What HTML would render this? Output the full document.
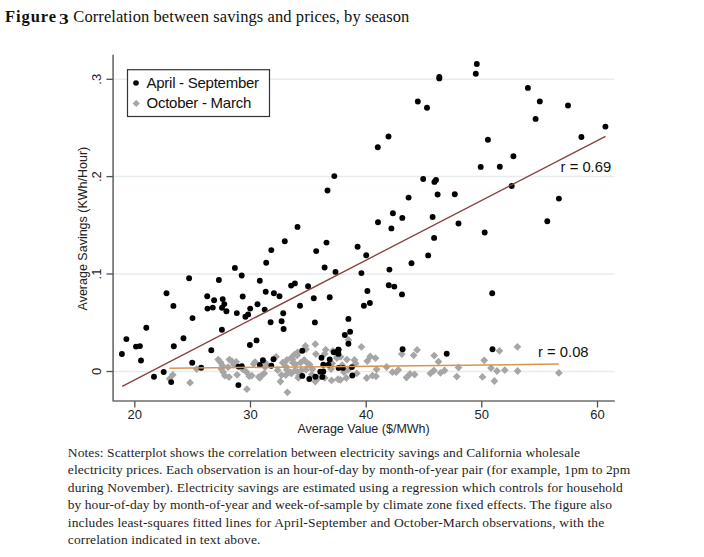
<!DOCTYPE html>
<html><head><meta charset="utf-8"><style>
html,body{margin:0;padding:0;background:#fff;width:704px;height:557px;overflow:hidden}
.t{position:absolute;left:5px;top:7px;font-family:"Liberation Serif",serif;font-size:16.5px;line-height:19px;color:#111;white-space:nowrap;}
.t b{font-weight:bold}
.n{position:absolute;left:67.8px;font-family:"Liberation Serif",serif;font-size:13.5px;line-height:17px;color:#1e1e1e;white-space:nowrap}
svg{position:absolute;left:0;top:0}
svg text{font-family:"Liberation Sans",sans-serif}
</style></head><body>
<div class="t"><b style="letter-spacing:0.92px">Figure</b><b style="margin-left:-2px"> </b><b style="display:inline-block;font-size:15px;position:relative;top:2.2px;transform:scaleX(1.3);transform-origin:0 0;width:9.5px">3</b><span style="margin-left:0.6px"> </span><span style="letter-spacing:0.08px">Correlation between savings and prices, by season</span></div>
<svg width="704" height="557" viewBox="0 0 704 557">
<g stroke="#e6edf0" stroke-width="1.5">
<line x1="114" y1="79.3" x2="614.5" y2="79.3"/>
<line x1="114" y1="176.6" x2="614.5" y2="176.6"/>
<line x1="114" y1="274.0" x2="614.5" y2="274.0"/>
<line x1="114" y1="371.5" x2="614.5" y2="371.5"/>
</g>
<rect x="127.5" y="69.7" width="142" height="46.8" fill="#fff" stroke="#333" stroke-width="1.2"/>
<circle cx="136" cy="83" r="2.8" fill="#000"/>
<path d="M136.2 99.8L139.8 103.4L136.2 107.0L132.6 103.4Z" fill="#a8a8a8"/>
<text x="146.5" y="88.0" font-size="15" letter-spacing="-0.26" fill="#111">April - September</text>
<text x="146.5" y="108.3" font-size="15" letter-spacing="-0.26" fill="#111">October - March</text>
<path d="M282.7 358.8L286.6 362.7L282.7 366.6L278.8 362.7ZM285.7 362.4L289.6 366.3L285.7 370.2L281.8 366.3ZM292.9 358.8L296.8 362.7L292.9 366.6L289.0 362.7ZM290.2 368.6L294.1 372.5L290.2 376.4L286.3 372.5ZM264.2 369.5L268.1 373.4L264.2 377.3L260.3 373.4ZM265.1 363.3L269.0 367.2L265.1 371.1L261.2 367.2ZM298.3 374.0L302.2 377.9L298.3 381.8L294.4 377.9ZM258.8 373.1L262.7 377.0L258.8 380.9L254.9 377.0ZM306.0 345.3L309.9 349.2L306.0 353.1L302.1 349.2ZM324.8 349.8L328.7 353.7L324.8 357.6L320.9 353.7ZM300.6 358.8L304.5 362.7L300.6 366.6L296.7 362.7ZM309.6 360.6L313.5 364.5L309.6 368.4L305.7 364.5ZM306.0 365.9L309.9 369.8L306.0 373.7L302.1 369.8ZM298.8 372.2L302.7 376.1L298.8 380.0L294.9 376.1ZM332.9 347.1L336.8 351.0L332.9 354.9L329.0 351.0ZM331.1 365.1L335.0 369.0L331.1 372.9L327.2 369.0ZM324.8 374.0L328.7 377.9L324.8 381.8L320.9 377.9ZM396.2 368.3L400.1 372.2L396.2 376.1L392.3 372.2ZM340.6 352.9L344.5 356.8L340.6 360.7L336.7 356.8ZM348.4 336.0L352.3 339.9L348.4 343.8L344.5 339.9ZM361.4 343.0L365.3 346.9L361.4 350.8L357.5 346.9ZM417.1 346.0L421.0 349.9L417.1 353.8L413.2 349.9ZM413.6 351.4L417.5 355.3L413.6 359.2L409.7 355.3ZM434.2 351.7L438.1 355.6L434.2 359.5L430.3 355.6ZM169.7 374.8L173.6 378.7L169.7 382.6L165.8 378.7ZM172.8 370.9L176.7 374.8L172.8 378.7L168.9 374.8ZM190.1 378.8L194.0 382.7L190.1 386.6L186.2 382.7ZM196.7 365.2L200.6 369.1L196.7 373.0L192.8 369.1ZM218.2 355.7L222.1 359.6L218.2 363.5L214.3 359.6ZM220.5 358.4L224.4 362.3L220.5 366.2L216.6 362.3ZM222.3 361.5L226.2 365.4L222.3 369.3L218.4 365.4ZM221.4 365.1L225.3 369.0L221.4 372.9L217.5 369.0ZM223.2 368.2L227.1 372.1L223.2 376.0L219.3 372.1ZM224.9 371.8L228.8 375.7L224.9 379.6L221.0 375.7ZM229.0 373.2L232.9 377.1L229.0 381.0L225.1 377.1ZM228.1 363.3L232.0 367.2L228.1 371.1L224.2 367.2ZM229.4 355.7L233.3 359.6L229.4 363.5L225.5 359.6ZM232.1 357.5L236.0 361.4L232.1 365.3L228.2 361.4ZM236.2 357.9L240.1 361.8L236.2 365.7L232.3 361.8ZM233.9 360.6L237.8 364.5L233.9 368.4L230.0 364.5ZM237.1 370.9L241.0 374.8L237.1 378.7L233.2 374.8ZM242.9 365.5L246.8 369.4L242.9 373.3L239.0 369.4ZM246.5 368.2L250.4 372.1L246.5 376.0L242.6 372.1ZM249.2 372.3L253.1 376.2L249.2 380.1L245.3 376.2ZM246.9 385.3L250.8 389.2L246.9 393.1L243.0 389.2ZM253.7 360.2L257.6 364.1L253.7 368.0L249.8 364.1ZM255.0 358.2L258.9 362.1L255.0 366.0L251.1 362.1ZM266.4 359.9L270.3 363.8L266.4 367.7L262.5 363.8ZM276.1 352.9L280.0 356.8L276.1 360.7L272.2 356.8ZM251.8 371.7L255.7 375.6L251.8 379.5L247.9 375.6ZM261.5 371.7L265.4 375.6L261.5 379.5L257.6 375.6ZM259.9 373.9L263.8 377.8L259.9 381.7L256.0 377.8ZM277.7 366.3L281.6 370.2L277.7 374.1L273.8 370.2ZM280.4 377.6L284.3 381.5L280.4 385.4L276.5 381.5ZM281.5 371.2L285.4 375.1L281.5 379.0L277.6 375.1ZM286.8 356.1L290.7 360.0L286.8 363.9L282.9 360.0ZM286.8 365.8L290.7 369.7L286.8 373.6L282.9 369.7ZM285.8 371.2L289.7 375.1L285.8 379.0L281.9 375.1ZM291.2 353.9L295.1 357.8L291.2 361.7L287.3 357.8ZM294.4 350.7L298.3 354.6L294.4 358.5L290.5 354.6ZM297.6 348.5L301.5 352.4L297.6 356.3L293.7 352.4ZM295.5 360.4L299.4 364.3L295.5 368.2L291.6 364.3ZM297.6 367.9L301.5 371.8L297.6 375.7L293.7 371.8ZM287.4 388.4L291.3 392.3L287.4 396.2L283.5 392.3ZM305.4 342.1L309.3 346.0L305.4 349.9L301.5 346.0ZM315.3 340.3L319.2 344.2L315.3 348.1L311.4 344.2ZM315.9 350.2L319.8 354.1L315.9 358.0L312.0 354.1ZM304.2 356.1L308.1 360.0L304.2 363.9L300.3 360.0ZM297.2 351.4L301.1 355.3L297.2 359.2L293.3 355.3ZM292.5 355.5L296.4 359.4L292.5 363.3L288.6 359.4ZM307.7 359.6L311.6 363.5L307.7 367.4L303.8 363.5ZM312.4 365.4L316.3 369.3L312.4 373.2L308.5 369.3ZM294.9 366.6L298.8 370.5L294.9 374.4L291.0 370.5ZM291.4 369.5L295.3 373.4L291.4 377.3L287.5 373.4ZM301.3 366.6L305.2 370.5L301.3 374.4L297.4 370.5ZM311.8 370.6L315.7 374.5L311.8 378.4L307.9 374.5ZM315.3 377.6L319.2 381.5L315.3 385.4L311.4 381.5ZM325.7 345.8L329.6 349.7L325.7 353.6L321.8 349.7ZM332.2 359.6L336.1 363.5L332.2 367.4L328.3 363.5ZM331.6 376.5L335.5 380.4L331.6 384.3L327.7 380.4ZM338.0 375.3L341.9 379.2L338.0 383.1L334.1 379.2ZM318.2 374.3L322.1 378.2L318.2 382.1L314.3 378.2ZM336.9 354.3L340.8 358.2L336.9 362.1L333.0 358.2ZM337.0 353.1L340.9 357.0L337.0 360.9L333.1 357.0ZM346.9 355.7L350.8 359.6L346.9 363.5L343.0 359.6ZM354.5 356.1L358.4 360.0L354.5 363.9L350.6 360.0ZM355.6 359.6L359.5 363.5L355.6 367.4L351.7 363.5ZM367.3 357.2L371.2 361.1L367.3 365.0L363.4 361.1ZM370.2 352.6L374.1 356.5L370.2 360.4L366.3 356.5ZM375.5 354.3L379.4 358.2L375.5 362.1L371.6 358.2ZM376.6 365.4L380.5 369.3L376.6 373.2L372.7 369.3ZM342.2 361.3L346.1 365.2L342.2 369.1L338.3 365.2ZM344.0 368.3L347.9 372.2L344.0 376.1L340.1 372.2ZM348.0 366.0L351.9 369.9L348.0 373.8L344.1 369.9ZM356.8 369.5L360.7 373.4L356.8 377.3L352.9 373.4ZM340.5 375.9L344.4 379.8L340.5 383.7L336.6 379.8ZM346.3 374.1L350.2 378.0L346.3 381.9L342.4 378.0ZM366.7 374.1L370.6 378.0L366.7 381.9L362.8 378.0ZM372.5 371.8L376.4 375.7L372.5 379.6L368.6 375.7ZM376.0 372.4L379.9 376.3L376.0 380.2L372.1 376.3ZM401.8 350.2L405.7 354.1L401.8 358.0L397.9 354.1ZM438.5 357.8L442.4 361.7L438.5 365.6L434.6 361.7ZM386.6 363.1L390.5 367.0L386.6 370.9L382.7 367.0ZM392.5 368.3L396.4 372.2L392.5 376.1L388.6 372.2ZM398.3 366.0L402.2 369.9L398.3 373.8L394.4 369.9ZM406.5 373.6L410.4 377.5L406.5 381.4L402.6 377.5ZM410.0 370.1L413.9 374.0L410.0 377.9L406.1 374.0ZM414.6 370.6L418.5 374.5L414.6 378.4L410.7 374.5ZM430.4 369.5L434.3 373.4L430.4 377.3L426.5 373.4ZM433.9 366.6L437.8 370.5L433.9 374.4L430.0 370.5ZM440.5 368.9L444.4 372.8L440.5 376.7L436.6 372.8ZM444.5 366.6L448.4 370.5L444.5 374.4L440.6 370.5ZM458.5 363.6L462.4 367.5L458.5 371.4L454.6 367.5ZM456.8 372.7L460.7 376.6L456.8 380.5L452.9 376.6ZM484.2 356.4L488.1 360.3L484.2 364.2L480.3 360.3ZM491.0 364.2L494.9 368.1L491.0 372.0L487.1 368.1ZM497.0 367.1L500.9 371.0L497.0 374.9L493.1 371.0ZM482.5 373.0L486.4 376.9L482.5 380.8L478.6 376.9ZM494.4 377.1L498.3 381.0L494.4 384.9L490.5 381.0ZM499.4 346.9L503.3 350.8L499.4 354.7L495.5 350.8ZM517.4 342.9L521.3 346.8L517.4 350.7L513.5 346.8ZM504.8 366.3L508.7 370.2L504.8 374.1L500.9 370.2ZM517.6 367.1L521.5 371.0L517.6 374.9L513.7 371.0ZM558.9 369.0L562.8 372.9L558.9 376.8L555.0 372.9Z" fill="#a6a6a6"/>
<g fill="#000">
<circle cx="476.8" cy="64.0" r="2.95"/>
<circle cx="475.8" cy="73.7" r="2.95"/>
<circle cx="439.3" cy="76.9" r="2.95"/>
<circle cx="439.3" cy="78.4" r="2.95"/>
<circle cx="417.8" cy="101.5" r="2.95"/>
<circle cx="427.0" cy="107.8" r="2.95"/>
<circle cx="388.5" cy="136.5" r="2.95"/>
<circle cx="487.9" cy="139.7" r="2.95"/>
<circle cx="527.9" cy="87.9" r="2.95"/>
<circle cx="539.8" cy="101.4" r="2.95"/>
<circle cx="568.0" cy="105.5" r="2.95"/>
<circle cx="535.6" cy="118.9" r="2.95"/>
<circle cx="605.4" cy="126.6" r="2.95"/>
<circle cx="581.4" cy="137.0" r="2.95"/>
<circle cx="377.8" cy="147.2" r="2.95"/>
<circle cx="334.3" cy="176.1" r="2.95"/>
<circle cx="327.5" cy="190.5" r="2.95"/>
<circle cx="297.5" cy="226.9" r="2.95"/>
<circle cx="378.0" cy="222.2" r="2.95"/>
<circle cx="480.7" cy="166.9" r="2.95"/>
<circle cx="423.2" cy="179.0" r="2.95"/>
<circle cx="434.4" cy="181.9" r="2.95"/>
<circle cx="436.0" cy="180.0" r="2.95"/>
<circle cx="408.6" cy="197.6" r="2.95"/>
<circle cx="437.6" cy="194.5" r="2.95"/>
<circle cx="454.8" cy="194.2" r="2.95"/>
<circle cx="392.9" cy="213.3" r="2.95"/>
<circle cx="402.3" cy="217.9" r="2.95"/>
<circle cx="432.6" cy="217.0" r="2.95"/>
<circle cx="391.4" cy="228.4" r="2.95"/>
<circle cx="458.5" cy="223.5" r="2.95"/>
<circle cx="513.4" cy="156.2" r="2.95"/>
<circle cx="499.8" cy="166.8" r="2.95"/>
<circle cx="511.7" cy="186.0" r="2.95"/>
<circle cx="558.9" cy="198.6" r="2.95"/>
<circle cx="547.3" cy="221.3" r="2.95"/>
<circle cx="189.1" cy="278.2" r="2.95"/>
<circle cx="166.5" cy="293.3" r="2.95"/>
<circle cx="173.4" cy="305.9" r="2.95"/>
<circle cx="192.5" cy="318.1" r="2.95"/>
<circle cx="266.2" cy="262.8" r="2.95"/>
<circle cx="234.9" cy="267.9" r="2.95"/>
<circle cx="241.7" cy="275.5" r="2.95"/>
<circle cx="218.9" cy="280.0" r="2.95"/>
<circle cx="259.8" cy="280.7" r="2.95"/>
<circle cx="265.7" cy="291.8" r="2.95"/>
<circle cx="273.9" cy="293.3" r="2.95"/>
<circle cx="207.2" cy="296.3" r="2.95"/>
<circle cx="214.1" cy="300.2" r="2.95"/>
<circle cx="222.7" cy="299.1" r="2.95"/>
<circle cx="242.7" cy="296.5" r="2.95"/>
<circle cx="224.3" cy="304.1" r="2.95"/>
<circle cx="207.5" cy="308.6" r="2.95"/>
<circle cx="212.8" cy="307.6" r="2.95"/>
<circle cx="222.0" cy="307.7" r="2.95"/>
<circle cx="226.4" cy="311.2" r="2.95"/>
<circle cx="257.5" cy="304.2" r="2.95"/>
<circle cx="250.2" cy="308.6" r="2.95"/>
<circle cx="264.7" cy="309.6" r="2.95"/>
<circle cx="236.8" cy="313.1" r="2.95"/>
<circle cx="245.4" cy="316.7" r="2.95"/>
<circle cx="248.1" cy="314.4" r="2.95"/>
<circle cx="270.6" cy="322.3" r="2.95"/>
<circle cx="284.8" cy="241.3" r="2.95"/>
<circle cx="326.5" cy="242.6" r="2.95"/>
<circle cx="271.3" cy="250.1" r="2.95"/>
<circle cx="316.2" cy="251.1" r="2.95"/>
<circle cx="324.6" cy="267.5" r="2.95"/>
<circle cx="335.5" cy="271.9" r="2.95"/>
<circle cx="291.1" cy="285.6" r="2.95"/>
<circle cx="294.9" cy="283.4" r="2.95"/>
<circle cx="308.1" cy="286.2" r="2.95"/>
<circle cx="279.5" cy="296.3" r="2.95"/>
<circle cx="313.8" cy="298.2" r="2.95"/>
<circle cx="329.7" cy="297.3" r="2.95"/>
<circle cx="300.0" cy="305.7" r="2.95"/>
<circle cx="283.2" cy="313.3" r="2.95"/>
<circle cx="281.6" cy="321.2" r="2.95"/>
<circle cx="283.6" cy="329.0" r="2.95"/>
<circle cx="314.9" cy="322.4" r="2.95"/>
<circle cx="357.6" cy="246.7" r="2.95"/>
<circle cx="366.2" cy="255.2" r="2.95"/>
<circle cx="411.5" cy="263.2" r="2.95"/>
<circle cx="361.4" cy="273.1" r="2.95"/>
<circle cx="389.4" cy="269.6" r="2.95"/>
<circle cx="388.8" cy="285.3" r="2.95"/>
<circle cx="394.3" cy="286.6" r="2.95"/>
<circle cx="367.4" cy="291.0" r="2.95"/>
<circle cx="402.0" cy="294.4" r="2.95"/>
<circle cx="369.9" cy="303.0" r="2.95"/>
<circle cx="363.9" cy="305.7" r="2.95"/>
<circle cx="348.4" cy="318.9" r="2.95"/>
<circle cx="350.1" cy="331.7" r="2.95"/>
<circle cx="344.8" cy="335.0" r="2.95"/>
<circle cx="348.4" cy="343.7" r="2.95"/>
<circle cx="338.5" cy="349.7" r="2.95"/>
<circle cx="402.6" cy="349.3" r="2.95"/>
<circle cx="484.7" cy="232.5" r="2.95"/>
<circle cx="434.1" cy="237.9" r="2.95"/>
<circle cx="428.2" cy="255.4" r="2.95"/>
<circle cx="492.2" cy="293.2" r="2.95"/>
<circle cx="146.3" cy="327.8" r="2.95"/>
<circle cx="126.4" cy="339.1" r="2.95"/>
<circle cx="183.5" cy="338.2" r="2.95"/>
<circle cx="136.0" cy="346.6" r="2.95"/>
<circle cx="139.9" cy="346.1" r="2.95"/>
<circle cx="173.8" cy="346.3" r="2.95"/>
<circle cx="121.9" cy="354.0" r="2.95"/>
<circle cx="141.0" cy="360.5" r="2.95"/>
<circle cx="192.2" cy="362.8" r="2.95"/>
<circle cx="163.7" cy="372.0" r="2.95"/>
<circle cx="154.0" cy="376.8" r="2.95"/>
<circle cx="171.2" cy="382.1" r="2.95"/>
<circle cx="221.9" cy="329.7" r="2.95"/>
<circle cx="211.3" cy="350.2" r="2.95"/>
<circle cx="249.9" cy="345.0" r="2.95"/>
<circle cx="201.2" cy="367.7" r="2.95"/>
<circle cx="238.5" cy="366.6" r="2.95"/>
<circle cx="241.8" cy="366.2" r="2.95"/>
<circle cx="238.4" cy="385.1" r="2.95"/>
<circle cx="256.5" cy="340.4" r="2.95"/>
<circle cx="262.9" cy="360.3" r="2.95"/>
<circle cx="259.9" cy="365.0" r="2.95"/>
<circle cx="273.5" cy="359.2" r="2.95"/>
<circle cx="271.3" cy="365.7" r="2.95"/>
<circle cx="302.3" cy="350.8" r="2.95"/>
<circle cx="321.5" cy="357.8" r="2.95"/>
<circle cx="329.7" cy="359.4" r="2.95"/>
<circle cx="333.8" cy="352.2" r="2.95"/>
<circle cx="338.4" cy="349.8" r="2.95"/>
<circle cx="338.4" cy="353.9" r="2.95"/>
<circle cx="323.3" cy="364.8" r="2.95"/>
<circle cx="328.5" cy="364.8" r="2.95"/>
<circle cx="338.6" cy="367.9" r="2.95"/>
<circle cx="320.3" cy="371.8" r="2.95"/>
<circle cx="323.3" cy="371.4" r="2.95"/>
<circle cx="302.3" cy="375.9" r="2.95"/>
<circle cx="309.3" cy="379.0" r="2.95"/>
<circle cx="315.4" cy="376.7" r="2.95"/>
<circle cx="322.4" cy="376.9" r="2.95"/>
<circle cx="342.9" cy="367.9" r="2.95"/>
<circle cx="351.9" cy="367.1" r="2.95"/>
<circle cx="352.3" cy="375.5" r="2.95"/>
<circle cx="446.7" cy="353.8" r="2.95"/>
<circle cx="492.5" cy="349.3" r="2.95"/>
</g>
<line x1="122.2" y1="386.3" x2="605.5" y2="136.3" stroke="#8a4040" stroke-width="1.35"/>
<line x1="169.4" y1="368.3" x2="558.8" y2="364.1" stroke="#d8954f" stroke-width="1.5"/>
<text x="560.6" y="172.3" font-size="14.8" fill="#111">r = 0.69</text>
<text x="538.0" y="356.9" font-size="14.8" fill="#111">r = 0.08</text>
<g stroke="#6e6e6e" stroke-width="1.65" fill="none" stroke-linejoin="round" stroke-linecap="round">
<polyline points="113.1,55.2 113.1,401 614.2,401"/>
</g>
<g stroke="#505050" stroke-width="1.3">
<line x1="106.5" y1="79.3" x2="113" y2="79.3"/>
<line x1="106.5" y1="176.6" x2="113" y2="176.6"/>
<line x1="106.5" y1="274.0" x2="113" y2="274.0"/>
<line x1="106.5" y1="371.5" x2="113" y2="371.5"/>
<line x1="134.8" y1="401" x2="134.8" y2="407.5"/>
<line x1="250.5" y1="401" x2="250.5" y2="407.5"/>
<line x1="366.2" y1="401" x2="366.2" y2="407.5"/>
<line x1="481.8" y1="401" x2="481.8" y2="407.5"/>
<line x1="597.5" y1="401" x2="597.5" y2="407.5"/>
</g>
<g font-size="13" fill="#222" text-anchor="middle">
<text x="134.8" y="419">20</text>
<text x="250.5" y="419">30</text>
<text x="366.2" y="419">40</text>
<text x="481.8" y="419">50</text>
<text x="597.5" y="419">60</text>
<text transform="translate(101.3,371.5) rotate(-90)">0</text>
<text transform="translate(101.3,274.0) rotate(-90)">.1</text>
<text transform="translate(101.3,176.6) rotate(-90)">.2</text>
<text transform="translate(101.3,79.3) rotate(-90)">.3</text>
<text x="363.6" y="432.8" font-size="12.5">Average Value ($/MWh)</text>
<text transform="translate(87.2,228.6) rotate(-90)" font-size="12.5">Average Savings (KWh/Hour)</text>
</g>
</svg>
<div class="n" style="top:443.60px;letter-spacing:0.092px">Notes: Scatterplot shows the correlation between electricity savings and California wholesale</div><div class="n" style="top:461.15px;letter-spacing:0.093px">electricity prices. Each observation is an hour-of-day by month-of-year pair (for example, 1pm to 2pm</div><div class="n" style="top:478.70px;letter-spacing:0.113px">during November). Electricity savings are estimated using a regression which controls for household</div><div class="n" style="top:496.25px;letter-spacing:0.045px">by hour-of-day by month-of-year and week-of-sample by climate zone fixed effects. The figure also</div><div class="n" style="top:513.80px;letter-spacing:0.144px">includes least-squares fitted lines for April-September and October-March observations, with the</div><div class="n" style="top:531.35px;letter-spacing:0.139px">correlation indicated in text above.</div>
</body></html>
